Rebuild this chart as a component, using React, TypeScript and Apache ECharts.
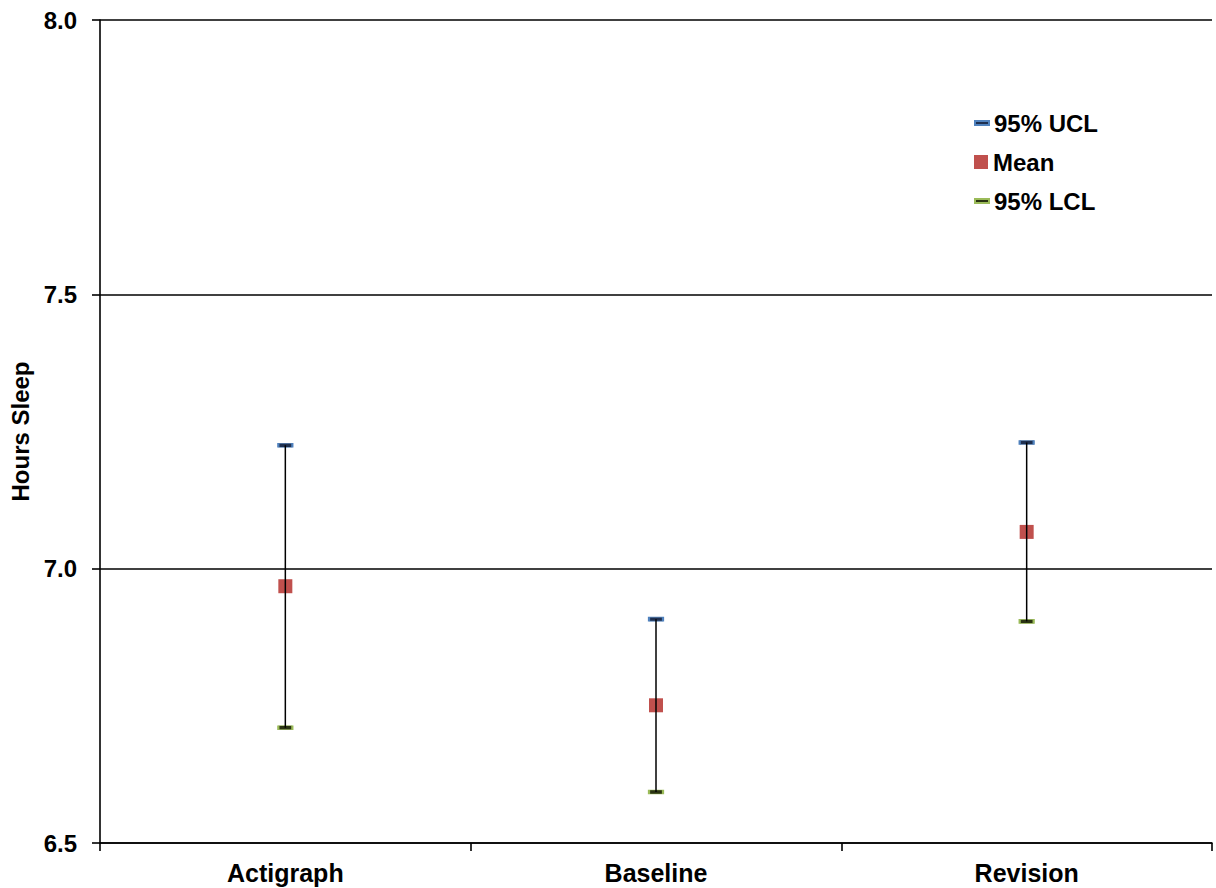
import React, { useEffect, useRef } from "react";
import * as echarts from "echarts";

const categories = ["Actigraph", "Baseline", "Revision"];
const ucl = [7.225, 6.908, 7.23];
const mean = [6.968, 6.751, 7.067];
const lcl = [6.71, 6.593, 6.904];
const yTicks = { min: 6.5, max: 8.0, interval: 0.5 };
const yName = "Hours Sleep";
const seriesNames = ["95% UCL", "Mean", "95% LCL"];

const FONT = "'Liberation Sans', Arial, sans-serif";

export default function App() {
  const ref = useRef<HTMLDivElement>(null);
  useEffect(() => {
    document.body.style.margin = "0";
    if (!ref.current) return;
    const chart = echarts.init(ref.current, null, { renderer: "svg" });
    const txt = { color: "#000", fontFamily: FONT, fontWeight: "bold" as const, fontSize: 24 };
    const legendBase = {
      orient: "vertical" as const,
      left: 974,
      itemWidth: 14,
      selectedMode: false,
      textStyle: { ...txt, lineHeight: 24 },
      padding: 0,
    };
    chart.setOption({
      animation: false,
      grid: { left: 100, top: 20, right: 4, bottom: 45, containLabel: false },
      legend: [
        { ...legendBase, data: [seriesNames[0]], itemHeight: 4, top: 111 },
        { ...legendBase, data: [seriesNames[1]], itemHeight: 14, top: 150 },
        { ...legendBase, data: [seriesNames[2]], itemHeight: 4, top: 189 },
      ],
      xAxis: {
        type: "category",
        data: categories,
        boundaryGap: true,
        axisLine: { lineStyle: { color: "#000", width: 1.6 } },
        axisTick: { show: true, length: 8, lineStyle: { color: "#000", width: 1.6 } },
        axisLabel: { ...txt, fontSize: 25, margin: 17 },
        splitLine: { show: false },
      },
      yAxis: {
        type: "value",
        min: yTicks.min,
        max: yTicks.max,
        interval: yTicks.interval,
        name: yName,
        nameLocation: "middle",
        nameGap: 66,
        nameRotate: 90,
        nameTextStyle: { ...txt },
        axisLine: { show: true, lineStyle: { color: "#000", width: 1.6 } },
        axisTick: { show: true, length: 8, lineStyle: { color: "#000", width: 1.6 } },
        axisLabel: { ...txt, margin: 23, formatter: (v: number) => v.toFixed(1) },
        splitLine: { show: true, lineStyle: { color: "#000", width: 1.6 } },
      },
      series: [
        {
          name: seriesNames[0],
          type: "scatter",
          data: ucl,
          symbol: "rect",
          symbolSize: [14, 4],
          itemStyle: { color: "#1F3050", borderColor: "#4F81BD", borderWidth: 1.2, opacity: 1 },
          z: 2,
        },
        {
          name: seriesNames[1],
          type: "scatter",
          data: mean,
          symbol: "rect",
          symbolSize: 14,
          itemStyle: { color: "#C0504D", opacity: 1 },
          z: 2,
        },
        {
          name: seriesNames[2],
          type: "scatter",
          data: lcl,
          symbol: "rect",
          symbolSize: [14, 4],
          itemStyle: { color: "#2A3312", borderColor: "#9BBB59", borderWidth: 1.2, opacity: 1 },
          z: 2,
        },
        {
          name: "range",
          type: "custom",
          z: 3,
          silent: true,
          data: categories.map((c, i) => [i, lcl[i], ucl[i]]),
          encode: { x: 0, y: [1, 2] },
          renderItem: (params: any, api: any) => {
            const x = api.value(0);
            const lo = api.coord([x, api.value(1)]);
            const hi = api.coord([x, api.value(2)]);
            return {
              type: "line",
              shape: { x1: lo[0], y1: lo[1], x2: hi[0], y2: hi[1] },
              style: { stroke: "#000", lineWidth: 1.5 },
            };
          },
        },
      ],
    });
    return () => chart.dispose();
  }, []);
  return <div ref={ref} style={{ width: 1216, height: 888 }} />;
}
